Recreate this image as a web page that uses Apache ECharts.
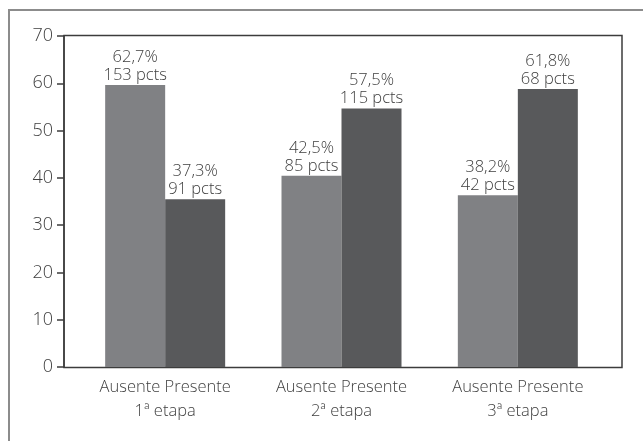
<!DOCTYPE html>
<html>
<head>
<meta charset="utf-8">
<title>Ausente / Presente por etapa</title>
<script src="https://cdn.jsdelivr.net/npm/echarts@6/dist/echarts.min.js"></script>
<style>
  html, body { margin: 0; padding: 0; background: #fff; }
  #chart { width: 643px; height: 441px; }
</style>
</head>
<body>
<div id="chart"></div>
<script>
// Stages (x categories) and the two groups in each stage
const etapas = ['1ª etapa', '2ª etapa', '3ª etapa'];
const grupos = ['Ausente', 'Presente'];

// Percentage of patients per group, and the matching patient counts
const ausentePct = [62.7, 42.5, 38.2];
const presentePct = [37.3, 57.5, 61.8];
const ausentePcts = [153, 85, 42];
const presentePcts = [91, 115, 68];

// Y-axis tick labels
const yTicks = [0, 10, 20, 30, 40, 50, 60, 70];

const FONT = '"Open Sans", "Noto Sans", sans-serif';
const TEXT = '#404040';
const WEIGHT = 300;

function fmtPct(v) {
  return v.toFixed(1).replace('.', ',') + '%';
}

function barLabel(counts) {
  return {
    show: true,
    position: 'top',
    distance: 1,
    fontFamily: FONT,
    fontWeight: WEIGHT,
    fontSize: 16.5,
    lineHeight: 18,
    color: TEXT,
    formatter: p => fmtPct(p.value) + '\n' + counts[p.dataIndex] + ' pcts'
  };
}

const chart = echarts.init(document.getElementById('chart'), null, { renderer: 'canvas' });

chart.setOption({
  animation: false,
  backgroundColor: '#fff',
  grid: { left: 77, right: 37, top: 36, bottom: 74, containLabel: false },
  graphic: [
    // outer panel border
    {
      type: 'rect', silent: true, z: -1,
      shape: { x: 9, y: 10, width: 700, height: 500 },
      style: { fill: 'none', stroke: '#8c8c8c', lineWidth: 2 }
    },
    // plot frame
    {
      type: 'rect', silent: true,
      shape: { x: 64, y: 35.5, width: 558, height: 332 },
      style: { fill: 'none', stroke: '#3c3c3c', lineWidth: 1.5 }
    }
  ],
  xAxis: {
    type: 'category',
    data: etapas,
    axisLine: { show: false },
    axisTick: { show: false },
    axisLabel: {
      margin: 8,
      fontFamily: FONT,
      fontWeight: WEIGHT,
      fontSize: 16.5,
      lineHeight: 24,
      color: TEXT,
      formatter: v => grupos.join(' ') + '\n' + v
    }
  },
  yAxis: [
    {
      type: 'value',
      min: yTicks[0],
      max: yTicks[yTicks.length - 1],
      interval: yTicks[1] - yTicks[0],
      position: 'left',
      offset: 13,
      axisLine: { show: true, lineStyle: { color: '#3c3c3c', width: 1.5 } },
      axisTick: { show: true, length: 7, lineStyle: { color: '#3c3c3c', width: 1.5 } },
      axisLabel: { margin: 11, fontFamily: FONT, fontWeight: WEIGHT, fontSize: 18, color: TEXT },
      splitLine: { show: false }
    },
    {
      // scale used for the bars
      type: 'value',
      min: 0,
      max: 73.6,
      show: false,
      splitLine: { show: false }
    }
  ],
  series: [
    {
      name: grupos[0],
      type: 'bar',
      yAxisIndex: 1,
      data: ausentePct,
      barWidth: 60,
      barGap: '0%',
      itemStyle: { color: '#808184' },
      label: barLabel(ausentePcts)
    },
    {
      name: grupos[1],
      type: 'bar',
      yAxisIndex: 1,
      data: presentePct,
      barWidth: 60,
      barGap: '0%',
      itemStyle: { color: '#58595b' },
      label: barLabel(presentePcts)
    }
  ]
});
</script>
</body>
</html>
